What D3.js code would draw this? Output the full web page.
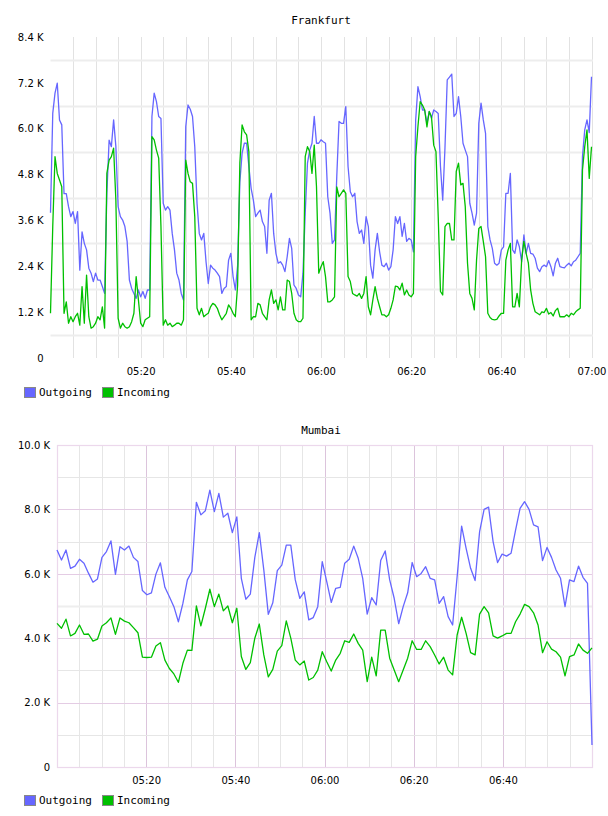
<!DOCTYPE html>
<html>
<head>
<meta charset="utf-8">
<script src="https://cdn.jsdelivr.net/npm/d3@7"></script>
<style>
  body { margin: 0; background: #fff; }
  svg text { font-family: "DejaVu Sans", sans-serif; font-size: 10px; fill: #000; }
  svg text.title, svg .legend text { font-family: "DejaVu Sans Mono", monospace; font-size: 11px; }
</style>
</head>
<body>
<svg id="chart" width="608" height="816"></svg>
<script>
// values in thousands, Frankfurt every 30 s, Mumbai roughly every minute, 05:00 -> 07:00
var frankfurtOut = [
  3.8, 6.4, 6.93, 7.19, 6.23, 6.1, 4.3, 4.3, 3.96, 3.7,
  3.83, 3.52, 3.83, 2.3, 3.3, 3.0, 2.83, 2.35, 2.22, 2.0,
  2.22, 2.04, 2.04, 1.87, 1.69, 4.3, 5.7, 5.53, 6.23, 5.53,
  3.96, 3.7, 3.61, 3.44, 3.05, 2.04, 1.82, 1.69, 1.56, 1.78,
  1.6, 1.74, 1.56, 1.78, 1.78, 6.32, 6.93, 6.71, 6.32, 6.27,
  4.05, 3.87, 3.96, 3.87, 3.26, 2.83, 2.22, 2.04, 1.69, 1.52,
  6.05, 6.62, 6.51, 6.32, 5.53, 4.05, 3.26, 3.09, 3.26, 2.52,
  1.95, 2.43, 2.35, 2.3, 2.22, 2.13, 1.69, 1.82, 1.87, 2.56,
  2.74, 2.13, 1.78, 2.41, 4.6, 5.36, 5.62, 5.62, 5.01, 4.44,
  4.13, 3.7, 3.79, 3.87, 3.57, 3.44, 2.74, 4.13, 4.31, 3.26,
  2.74, 2.48, 2.52, 2.43, 2.26, 2.65, 3.13, 2.87, 1.91, 1.82,
  1.65, 1.6, 2.22, 3.79, 5.1, 5.44, 5.62, 6.32, 5.62, 5.62,
  5.71, 5.66, 5.62, 4.22, 3.79, 3.0, 3.09, 4.75, 6.19, 6.14,
  6.14, 6.58, 5.01, 4.35, 4.22, 4.31, 3.57, 3.26, 3.35, 3.0,
  3.7, 3.44, 2.43, 2.09, 2.83, 3.26, 2.78, 2.43, 2.39, 2.48,
  2.3, 2.39, 2.83, 3.7, 3.52, 3.7, 3.18, 3.52, 3.05, 3.13,
  3.09, 2.78, 6.23, 7.1, 6.84, 6.49, 6.49, 6.14, 6.45, 6.27,
  6.49, 6.45, 6.4, 5.01, 4.13, 5.5, 7.28, 7.35, 7.43, 6.32,
  6.4, 6.84, 6.32, 5.62, 5.44, 5.27, 4.05, 3.79, 3.48, 3.79,
  6.14, 6.67, 6.23, 5.88, 3.44, 3.09, 2.87, 2.48, 2.43, 2.48,
  2.83, 2.91, 4.31, 4.31, 4.83, 2.83, 2.74, 3.09, 2.91, 2.52,
  3.22, 2.74, 3.0, 2.74, 2.72, 2.61, 2.35, 2.26, 2.39, 2.43,
  2.39, 2.55, 2.39, 2.15, 2.48, 2.61, 2.39, 2.37, 2.36, 2.43,
  2.48, 2.41, 2.52, 2.56, 2.65, 2.74, 5.27, 5.97, 6.23, 5.9,
  7.36
];
var frankfurtIn = [
  1.17, 3.44, 5.27, 4.83, 4.66, 4.48, 1.17, 1.47, 0.91, 1.08,
  0.95, 1.08, 1.17, 0.86, 1.87, 0.91, 2.17, 1.08, 0.78, 0.82,
  0.91, 1.08, 1.0, 1.34, 0.78, 4.83, 5.18, 5.27, 5.49, 4.13,
  1.04, 0.78, 0.91, 0.82, 0.78, 0.82, 0.95, 1.17, 2.13, 1.52,
  0.91, 0.82, 1.0, 1.04, 1.08, 5.79, 5.71, 5.44, 5.23, 3.44,
  0.86, 1.0, 0.86, 0.91, 0.82, 0.86, 0.91, 0.91, 0.86, 1.0,
  5.18, 4.83, 4.61, 4.57, 3.7, 1.3, 1.13, 1.3, 1.08, 1.13,
  1.17, 1.34, 1.43, 1.39, 1.3, 1.13, 1.0, 1.08, 1.17, 1.39,
  1.3, 1.17, 1.08, 1.9, 5.1, 6.1, 5.92, 5.84, 5.4, 1.0,
  1.08, 1.08, 1.43, 1.39, 1.17, 1.08, 1.0, 1.52, 1.78, 1.43,
  1.52, 1.26, 1.6, 1.26, 1.26, 2.04, 2.0, 1.69, 1.17, 1.0,
  0.95, 0.95, 1.04, 5.27, 5.53, 5.4, 4.83, 5.57, 4.48, 2.22,
  2.39, 2.52, 2.13, 1.47, 1.47, 1.52, 1.6, 4.48, 4.22, 4.31,
  4.4, 4.31, 2.13, 2.0, 1.69, 1.65, 1.62, 1.69, 1.56, 1.69,
  2.13, 1.34, 1.13, 1.52, 1.87, 1.56, 1.34, 1.13, 1.13, 1.08,
  1.13, 1.3, 1.52, 1.88, 1.87, 1.78, 1.96, 1.65, 1.78, 1.65,
  1.6, 1.69, 5.27, 6.05, 6.71, 6.62, 6.49, 6.05, 6.45, 6.32,
  5.57, 5.4, 3.7, 1.74, 1.65, 3.44, 3.52, 3.52, 3.09, 3.09,
  4.88, 5.1, 4.53, 4.57, 3.96, 2.48, 1.69, 1.56, 1.26, 2.56,
  3.39, 3.44, 3.05, 2.65, 1.17, 1.06, 1.01, 1.0, 1.01, 1.1,
  1.17, 1.17, 2.56, 2.83, 3.0, 1.34, 1.34, 1.69, 1.34, 2.56,
  3.05, 2.74, 2.48, 1.78, 1.43, 1.21, 1.17, 1.13, 1.21, 1.19,
  1.3, 1.15, 1.19, 1.1, 1.24, 1.3, 1.08, 1.08, 1.08, 1.13,
  1.08, 1.17, 1.13, 1.21, 1.26, 1.3, 4.92, 5.53, 5.97, 4.7,
  5.53
];
var mumbaiOut = [
  6.74, 6.43, 6.74, 6.17, 6.24, 6.45, 6.33, 6.02, 5.74, 5.84,
  6.51, 6.69, 7.02, 5.98, 6.84, 6.74, 6.86, 6.51, 6.38, 5.48,
  5.35, 5.41, 5.99, 6.34, 5.58, 5.29, 4.98, 4.51, 5.08, 5.81,
  6.07, 8.22, 7.83, 7.96, 8.6, 7.93, 8.5, 7.76, 7.88,
  7.28, 7.77, 5.86, 5.21, 5.37, 6.51, 7.28, 6.12, 4.74, 5.10,
  6.10, 6.27, 6.89, 6.89, 5.81, 5.24, 5.44, 4.57, 4.64, 4.98,
  6.38, 5.76, 5.11, 5.55, 5.58, 6.33, 6.45, 6.86, 6.48, 5.86,
  4.75, 5.26, 5.03, 6.41, 6.71, 5.81, 5.24, 4.45,
  4.98, 5.41, 6.35, 5.91, 6.01, 6.22, 5.86, 5.81, 5.08, 5.29,
  4.67, 4.41, 5.91, 7.48, 6.79, 6.17, 5.79, 7.31, 8.0, 8.07,
  7.0, 6.35, 6.61, 6.55, 6.64, 7.36, 8.03, 8.24, 8.0, 7.52,
  7.46, 6.41, 6.82, 6.51, 6.12, 5.86, 4.98, 5.81, 5.76, 6.24,
  5.89, 5.70, 0.68
];
var mumbaiIn = [
  4.46, 4.31, 4.59, 4.07, 4.15, 4.41, 4.12, 4.13, 3.91, 3.97,
  4.38, 4.48, 4.63, 4.12, 4.63, 4.53, 4.48, 4.33, 4.17, 3.41,
  3.40, 3.41, 3.76, 3.86, 3.32, 3.06, 2.89, 2.63, 3.22, 3.63,
  3.62, 5.0, 4.38, 4.93, 5.52, 4.98, 5.37, 4.85, 5.0,
  4.48, 4.93, 3.43, 3.03, 3.24, 4.0, 4.44, 3.48, 2.80, 3.03,
  3.60, 3.77, 4.54, 4.0, 3.32, 3.17, 3.29, 2.70, 2.78, 3.01,
  3.58, 3.27, 2.98, 3.32, 3.53, 3.92, 3.87, 4.13, 3.84, 3.63,
  2.65, 3.41, 2.83, 4.25, 4.25, 3.38, 3.01, 2.65,
  3.01, 3.38, 3.92, 3.65, 3.65, 3.92, 3.74, 3.48, 3.20, 3.41,
  3.01, 2.86, 4.10, 4.65, 4.15, 3.55, 3.48, 4.75, 4.98, 4.79,
  4.07, 4.0, 4.07, 4.15, 4.15, 4.51, 4.75, 5.05, 4.98, 4.79,
  4.41, 3.55, 3.89, 3.66, 3.58, 3.41, 2.83, 3.43, 3.48, 3.82,
  3.63, 3.53, 3.70
];
var seriesNames = ["Outgoing", "Incoming"];
var seriesColors = ["#6666ff", "#00c000"];
var frankfurtTicks = [0, 1.2, 2.4, 3.6, 4.8, 6.0, 7.2, 8.4];
var mumbaiTicks = [0, 2, 4, 6, 8, 10];
var timeLabels = ["05:20", "05:40", "06:00", "06:20", "06:40", "07:00"];

var parseTime = d3.timeParse("%H:%M");
var t0 = parseTime("05:00"), t1 = parseTime("07:00");
var svg = d3.select("#chart");

// spread the samples evenly over 05:00 .. 07:00
function withTimes(values) {
  var step = (t1 - t0) / (values.length - 1);
  return values.map((v, i) => ({date: new Date(+t0 + i * step), value: v}));
}

function fmtK(d) { return d === 0 ? "0" : d3.format(".1f")(d) + " K"; }

function drawPanel(o) {
  var g = svg.append("g");

  var x = d3.scaleTime().domain([t0, t1]).range([o.left, o.right]);
  var y = d3.scaleLinear().domain([0, o.yMax]).range([o.bottom, o.top]);

  // grid
  var minutes5 = d3.timeMinute.every(5).range(d3.timeMinute.offset(t0, 5), d3.timeMinute.offset(t1, 1));
  g.append("g").selectAll("line")
    .data(minutes5)
    .join("line")
      .attr("x1", d => Math.round(x(d)) + 0.5).attr("x2", d => Math.round(x(d)) + 0.5)
      .attr("y1", o.top).attr("y2", o.bottom)
      .attr("stroke", d => o.majorV && d.getMinutes() % 20 === 0 ? o.majorV : o.minorV)
      .attr("stroke-width", 1);

  g.append("g").selectAll("line")
    .data(o.hGrid)
    .join("line")
      .attr("x1", o.left).attr("x2", o.gridRight)
      .attr("y1", d => Math.round(y(d.v)) + 0.5).attr("y2", d => Math.round(y(d.v)) + 0.5)
      .attr("stroke", d => d.c)
      .attr("stroke-width", d => d.w);

  if (o.frame) {
    g.append("rect")
      .attr("x", o.left + 0.5).attr("y", o.top + 0.5)
      .attr("width", o.gridRight - o.left - 1).attr("height", o.bottom - o.top)
      .attr("fill", "none").attr("stroke", o.frame).attr("stroke-width", 1.2);
  }

  // axes
  g.append("g")
    .attr("transform", "translate(" + o.left + ",0)")
    .call(d3.axisLeft(y).tickValues(o.ticks).tickFormat(fmtK).tickSize(0).tickPadding(o.yPad))
    .call(a => a.select(".domain").remove())
    .selectAll("text").style("font-family", null).style("font-size", null);

  g.append("g")
    .attr("transform", "translate(0," + o.bottom + ")")
    .call(d3.axisBottom(x).tickValues(o.xLabels.map(parseTime)).tickFormat(d3.timeFormat("%H:%M")).tickSize(0).tickPadding(10))
    .call(a => a.select(".domain").remove())
    .selectAll("text").style("font-family", null).style("font-size", null);

  // lines
  var line = d3.line().x(d => x(d.date)).y(d => y(d.value));
  o.series.forEach((s, i) => {
    g.append("path")
      .datum(withTimes(s))
      .attr("fill", "none")
      .attr("stroke", seriesColors[i])
      .attr("stroke-width", 1.3)
      .attr("stroke-linejoin", "round")
      .attr("d", line);
  });

  // title
  g.append("text").attr("class", "title")
    .attr("x", 321).attr("y", o.titleY)
    .attr("text-anchor", "middle")
    .text(o.title);

  // legend
  var leg = g.append("g").attr("class", "legend")
    .attr("transform", "translate(0," + o.legendY + ")");
  var item = leg.selectAll("g").data(seriesNames).join("g")
    .attr("transform", (d, i) => "translate(" + (24 + i * 78) + ",0)");
  item.append("rect")
    .attr("x", 0.5).attr("y", 0.5).attr("width", 11).attr("height", 10)
    .attr("fill", (d, i) => seriesColors[i])
    .attr("stroke", "#888");
  item.append("text")
    .attr("x", 15).attr("y", 9)
    .text(d => d);
}

drawPanel({
  title: "Frankfurt", titleY: 24,
  left: 50.5, right: 591.5, gridRight: 593, top: 37, bottom: 358,
  yMax: 8.4, ticks: frankfurtTicks, yPad: 7,
  xLabels: timeLabels,
  hGrid: [0.6, 1.8, 3.0, 4.2, 5.4, 6.6, 7.8].map(v => ({v: v, c: "#ededed", w: 2})),
  minorV: "#e2e2e2", majorV: null, frame: null,
  series: [frankfurtOut, frankfurtIn],
  legendY: 387
});

drawPanel({
  title: "Mumbai", titleY: 434,
  left: 57, right: 592, gridRight: 593, top: 445, bottom: 767,
  yMax: 10, ticks: mumbaiTicks, yPad: 7,
  xLabels: timeLabels.slice(0, 5),
  hGrid: d3.range(1, 11).map(v => ({v: v, c: v === 5 ? "#eeeeee" : (v % 2 === 0 ? "#e4cce4" : "#e6e6e6"), w: v === 5 ? 2 : 1})),
  minorV: "#e6e6e6", majorV: "#dcc4dc", frame: "#ecd8ec",
  series: [mumbaiOut, mumbaiIn],
  legendY: 795
});
</script>
</body>
</html>
